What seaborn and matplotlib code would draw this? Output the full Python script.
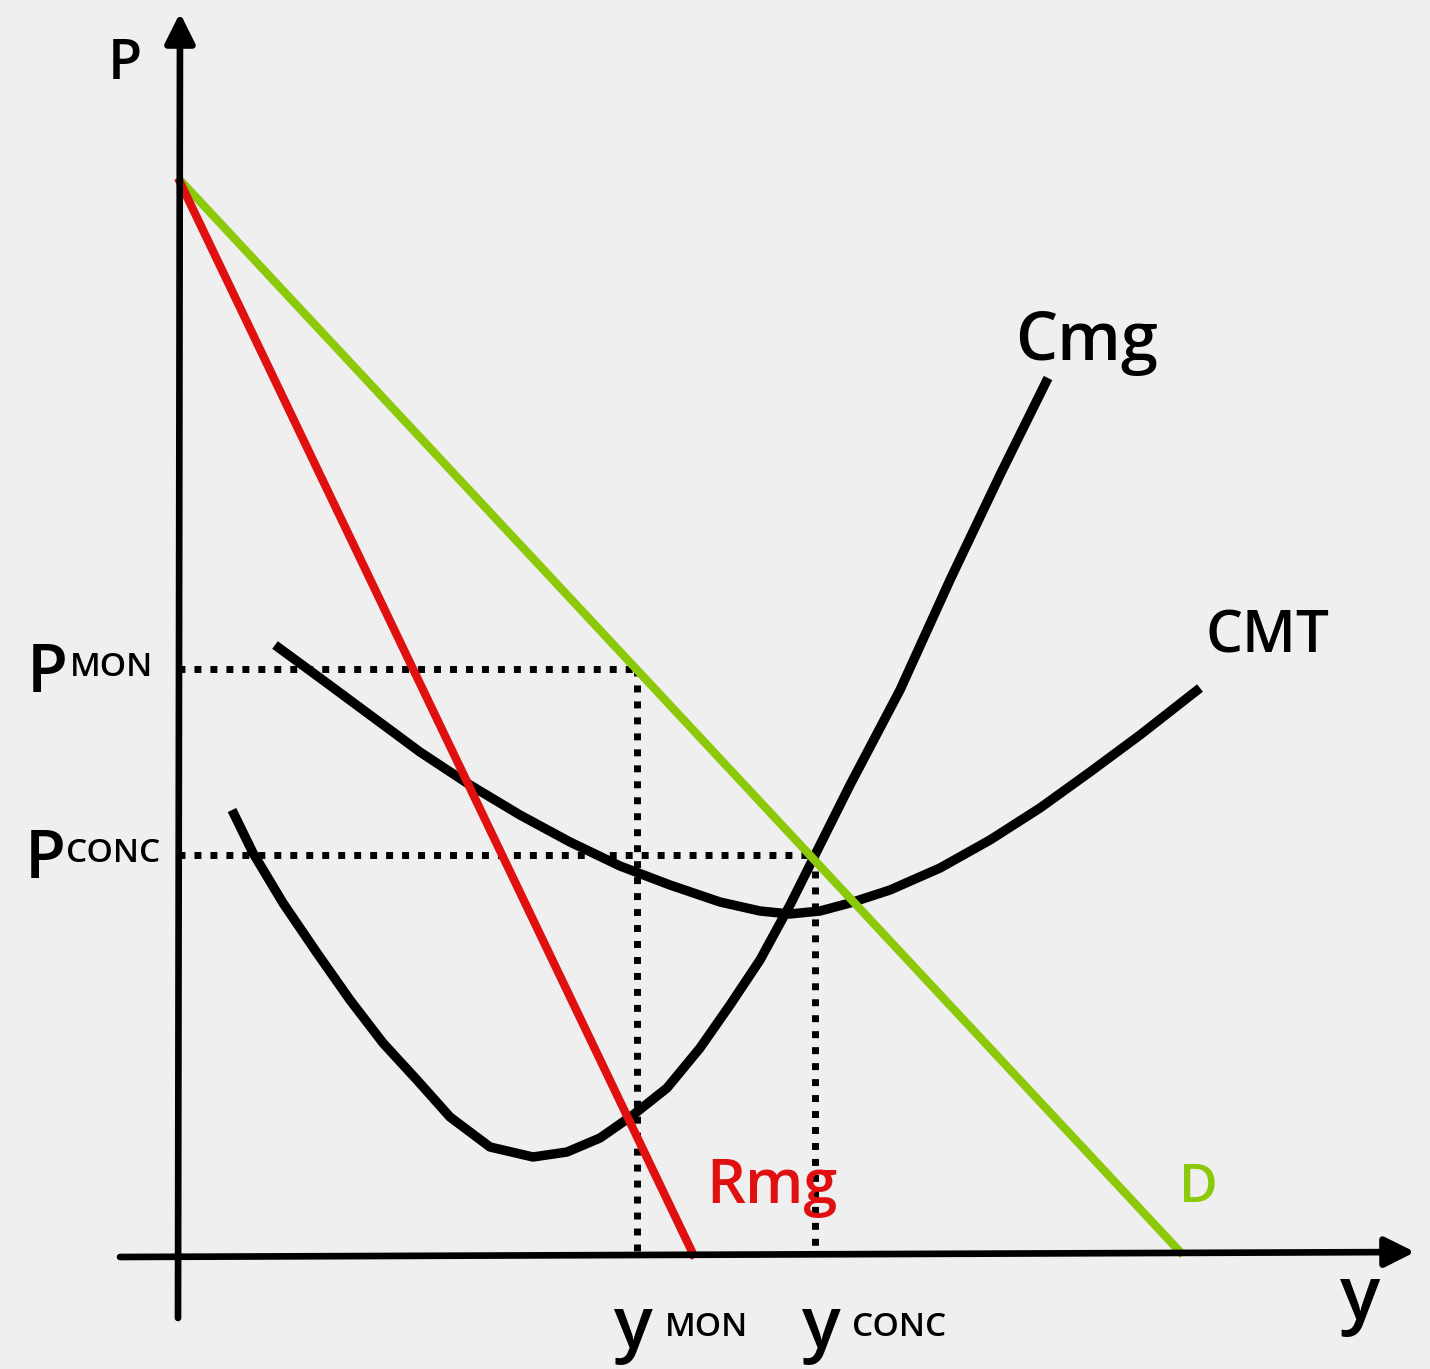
import numpy as np
import pandas as pd
import matplotlib.pyplot as plt
import seaborn as sns

# demand and marginal revenue (straight lines)
d_q = [0.0, 10.05]
d_p = [10.77, 0.0]
rmg_q = [0.0, 5.17]
rmg_p = [10.77, -0.03]

# marginal cost curve (Cmg)
cmg_q = [0.54, 0.75, 1.05, 1.39, 1.72, 2.05, 2.39, 2.72, 3.12, 3.55, 3.89, 4.22,
         4.55, 4.89, 5.22, 5.52, 5.82, 6.12, 6.37, 6.72, 7.22, 7.72, 8.22, 8.70]
cmg_p = [4.45, 4.02, 3.52, 3.02, 2.55, 2.12, 1.75, 1.38, 1.08, 0.98, 1.03, 1.17,
         1.40, 1.67, 2.07, 2.50, 2.95, 3.50, 4.00, 4.70, 5.65, 6.75, 7.80, 8.77]

# average total cost curve (CMT)
cmt_q = [0.97, 1.42, 1.92, 2.42, 2.92, 3.42, 3.92, 4.42, 4.92, 5.42, 5.82,
         6.12, 6.42, 6.72, 7.12, 7.62, 8.12, 8.62, 9.12, 9.62, 10.22]
cmt_p = [6.10, 5.77, 5.40, 5.03, 4.70, 4.40, 4.13, 3.89, 3.70, 3.53, 3.44,
         3.41, 3.44, 3.52, 3.65, 3.87, 4.15, 4.47, 4.83, 5.20, 5.67]

# monopoly / competition equilibria
y_mon, p_mon = 4.59, 5.86
y_conc, p_conc = 6.37, 4.00

sns.set_theme(style="white")
plt.rcParams['font.family'] = ['Open Sans', 'DejaVu Sans']

bg = '#efefef'
green = '#8cc90a'
red = '#e01010'

fig = plt.figure(figsize=(14.3, 13.69), dpi=100, facecolor=bg)
ax = fig.add_axes([0, 0, 1, 1])
ax.set_facecolor(bg)
ax.set_xlim(-1.78, 12.52)
ax.set_ylim(-1.14, 12.55)
ax.axis('off')

# axes with arrows
ax.annotate('', xy=(0.02, 12.42), xytext=(0.0, -0.63),
            arrowprops=dict(arrowstyle='-|>', lw=4.8, color='black', mutation_scale=45,
                            shrinkA=0, shrinkB=0))
ax.annotate('', xy=(12.37, 0.03), xytext=(-0.58, -0.02),
            arrowprops=dict(arrowstyle='-|>', lw=4.8, color='black', mutation_scale=45,
                            shrinkA=0, shrinkB=0))

# dotted guides
dot = dict(color='black', lw=5, linestyle=(0, (1, 1.3)))
ax.plot([0, y_mon], [p_mon, p_mon], **dot)
ax.plot([y_mon, y_mon], [p_mon, 0], **dot)
ax.plot([0, y_conc], [p_conc, p_conc], **dot)
ax.plot([y_conc, y_conc], [p_conc, 0], **dot)

# curves
sns.lineplot(x=cmg_q, y=cmg_p, ax=ax, color='black', lw=6.8, sort=False,
             solid_capstyle='butt', solid_joinstyle='round')
sns.lineplot(x=cmt_q, y=cmt_p, ax=ax, color='black', lw=6.8, sort=False,
             solid_capstyle='butt', solid_joinstyle='round')
sns.lineplot(x=d_q, y=d_p, ax=ax, color=green, lw=6, sort=False, solid_capstyle='butt')
sns.lineplot(x=rmg_q, y=rmg_p, ax=ax, color=red, lw=6, sort=False, solid_capstyle='butt')

# labels
lab = dict(ha='center', va='center', fontweight='semibold')
ax.text(-0.53, 11.90, 'P', fontsize=40, color='black', **lab)
ax.text(11.82, -0.45, 'y', fontsize=54, color='black', **lab)
ax.text(9.09, 9.13, 'Cmg', fontsize=48, color='black', **lab)
ax.text(10.89, 6.18, 'CMT', fontsize=42, color='black', **lab)
ax.text(5.94, 0.68, 'Rmg', fontsize=44, color=red, **lab)
ax.text(10.20, 0.67, 'D', fontsize=38, color=green, **lab)

sub = dict(ha='left', va='center', fontsize=24, color='black', fontweight='semibold')
ax.text(-1.31, p_mon - 0.05, 'P', fontsize=48, color='black', **lab)
ax.text(-1.08, p_mon + 0.02, 'MON', **sub)
ax.text(-1.33, p_conc - 0.05, 'P', fontsize=48, color='black', **lab)
ax.text(-1.12, p_conc + 0.02, 'CONC', **sub)

ax.text(y_mon - 0.05, -0.74, 'y', fontsize=52, color='black', **lab)
ax.text(y_mon + 0.28, -0.73, 'MON', **sub)
ax.text(y_conc + 0.05, -0.74, 'y', fontsize=52, color='black', **lab)
ax.text(y_conc + 0.37, -0.73, 'CONC', **sub)

fig.savefig('out.png', dpi=100, facecolor=bg)
